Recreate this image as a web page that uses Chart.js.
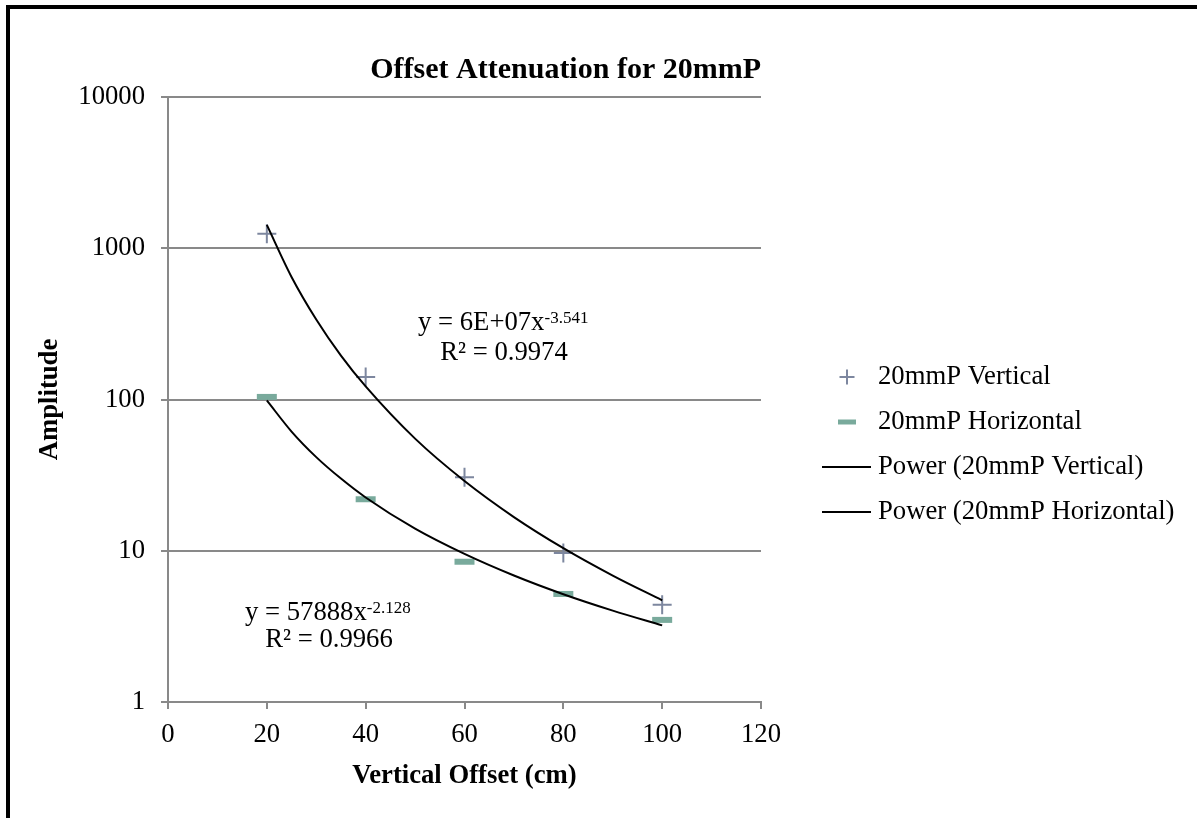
<!DOCTYPE html>
<html>
<head>
<meta charset="utf-8">
<script src="https://cdn.jsdelivr.net/npm/chart.js@4/dist/chart.umd.min.js"></script>
<style>
html,body{margin:0;padding:0;background:#fff;}
#wrap{position:relative;width:1197px;height:818px;}
</style>
</head>
<body>
<div id="wrap"><canvas id="c" width="1197" height="818"></canvas></div>
<script>
// ---- data ----
const offsets = [20, 40, 60, 80, 100];
const verticalAmp = [1245, 141, 30.6, 9.66, 4.39];
const horizontalAmp = [104, 21.9, 8.46, 5.18, 3.49];
// trendline curves
const trendX = [20, 25, 30, 35, 40, 50, 60, 70, 80, 90, 100];
const trendVertical = [1427, 646, 338, 195, 122, 55.1, 28.9, 16.7, 10.4, 6.85, 4.70];
const trendHorizontal = [98.6, 61.4, 41.6, 30.0, 22.5, 14.0, 9.53, 6.86, 5.16, 4.02, 3.21];
const yTickValues = [1, 10, 100, 1000, 10000];
const yTickLabels = ['1', '10', '100', '1000', '10000'];
const seriesNames = ['20mmP Vertical', '20mmP Horizontal', 'Power (20mmP Vertical)', 'Power (20mmP Horizontal)'];
const eqVertical = ['y = 6E+07x', '-3.541', 'R² = 0.9974'];
const eqHorizontal = ['y = 57888x', '-2.128', 'R² = 0.9966'];

const FONT = '"Liberation Serif", "Times New Roman", serif';
const FS = 26.7;
const plusColor = '#7d879f';
const dashColor = '#79aa9c';
const gridColor = '#898989';

const pts = (xs, ys) => xs.map((x, i) => ({x: x, y: ys[i]}));

const decor = {
  id: 'decor',
  beforeDraw(chart) {
    const ctx = chart.ctx;
    ctx.save();
    ctx.fillStyle = '#fff';
    ctx.fillRect(0, 0, chart.width, chart.height);
    ctx.fillStyle = '#000';
    ctx.fillRect(6, 5, 4, chart.height - 5);
    ctx.fillRect(6, 5, chart.width - 6, 4);
    ctx.restore();
  },
  afterDraw(chart) {
    const ctx = chart.ctx;
    ctx.save();
    ctx.fillStyle = '#000';
    ctx.textBaseline = 'alphabetic';
    function eq(parts, x, y, rx, ry) {
      ctx.font = FS + 'px ' + FONT;
      ctx.textAlign = 'left';
      ctx.fillText(parts[0], x, y);
      const w = ctx.measureText(parts[0]).width;
      ctx.font = '17px ' + FONT;
      ctx.fillText(parts[1], x + w, y - 7);
      ctx.font = FS + 'px ' + FONT;
      ctx.textAlign = 'center';
      ctx.fillText(parts[2], rx, ry);
    }
    eq(eqVertical, 418, 330, 504, 360);
    eq(eqHorizontal, 245, 620, 329, 647);
    // legend
    const lx = 847, tx = 878;
    const rows = [377, 422, 467, 512];
    ctx.strokeStyle = plusColor;
    ctx.lineWidth = 2;
    ctx.beginPath(); ctx.moveTo(lx - 7.5, rows[0]); ctx.lineTo(lx + 7.5, rows[0]); ctx.moveTo(lx, rows[0] - 7.5); ctx.lineTo(lx, rows[0] + 7.5); ctx.stroke();
    ctx.strokeStyle = dashColor;
    ctx.lineWidth = 5;
    ctx.beginPath(); ctx.moveTo(lx - 9, rows[1]); ctx.lineTo(lx + 9, rows[1]); ctx.stroke();
    ctx.strokeStyle = '#000';
    ctx.lineWidth = 2;
    ctx.beginPath(); ctx.moveTo(822, rows[2]); ctx.lineTo(871, rows[2]); ctx.moveTo(822, rows[3]); ctx.lineTo(871, rows[3]); ctx.stroke();
    ctx.font = FS + 'px ' + FONT;
    ctx.textAlign = 'left';
    ctx.textBaseline = 'middle';
    ctx.fillStyle = '#000';
    seriesNames.forEach((n, i) => ctx.fillText(n, tx, rows[i]));
    ctx.restore();
  }
};

new Chart(document.getElementById('c'), {
  type: 'scatter',
  data: {
    datasets: [
      {label: seriesNames[0], data: pts(offsets, verticalAmp), pointStyle: 'cross', pointRadius: 9.5, pointBorderWidth: 2, borderColor: plusColor, backgroundColor: plusColor, order: 2},
      {label: seriesNames[1], data: pts(offsets, horizontalAmp), pointStyle: 'line', pointRadius: 10, pointBorderWidth: 6, borderColor: dashColor, backgroundColor: dashColor, order: 2},
      {label: seriesNames[2], type: 'line', data: pts(trendX, trendVertical), showLine: true, borderColor: '#000', borderWidth: 2, pointRadius: 0, cubicInterpolationMode: 'monotone', fill: false, order: 1},
      {label: seriesNames[3], type: 'line', data: pts(trendX, trendHorizontal), showLine: true, borderColor: '#000', borderWidth: 2, pointRadius: 0, cubicInterpolationMode: 'monotone', fill: false, order: 1}
    ]
  },
  options: {
    responsive: false,
    animation: false,
    layout: {padding: {left: 10, right: 436, top: 0, bottom: 20}},
    plugins: {
      legend: {display: false},
      tooltip: {enabled: false},
      title: {
        display: true, fullSize: false, align: 'end',
        text: 'Offset Attenuation for 20mmP',
        color: '#000',
        font: {family: FONT, size: 30, weight: 'bold'},
        padding: {top: 52, bottom: 9}
      }
    },
    scales: {
      x: {
        type: 'linear', min: 0, max: 120,
        ticks: {stepSize: 20, color: '#000', font: {family: FONT, size: FS}, padding: 10, maxRotation: 0},
        grid: {drawOnChartArea: false, drawTicks: true, tickLength: 7, color: gridColor, lineWidth: 2},
        border: {color: gridColor, width: 2},
        title: {display: true, text: 'Vertical Offset (cm)', color: '#000', font: {family: FONT, size: FS, weight: 'bold'}, padding: {top: 0, bottom: 6}},
        afterFit(s) { s.height = 96; }
      },
      y: {
        type: 'logarithmic', min: 1, max: 10000,
        afterBuildTicks(s) { s.ticks = yTickValues.map(v => ({value: v})); },
        ticks: {color: '#000', font: {family: FONT, size: FS}, padding: 16,
          callback(v) { const i = yTickValues.indexOf(v); return i >= 0 ? yTickLabels[i] : ''; }},
        grid: {color: gridColor, lineWidth: 2, tickLength: 7},
        border: {color: gridColor, width: 2},
        title: {display: true, text: 'Amplitude', color: '#000', font: {family: FONT, size: FS, weight: 'bold'}, padding: {top: 24, bottom: 0}},
        afterFit(s) { s.width = 158; }
      }
    }
  },
  plugins: [decor]
});
</script>
</body>
</html>
